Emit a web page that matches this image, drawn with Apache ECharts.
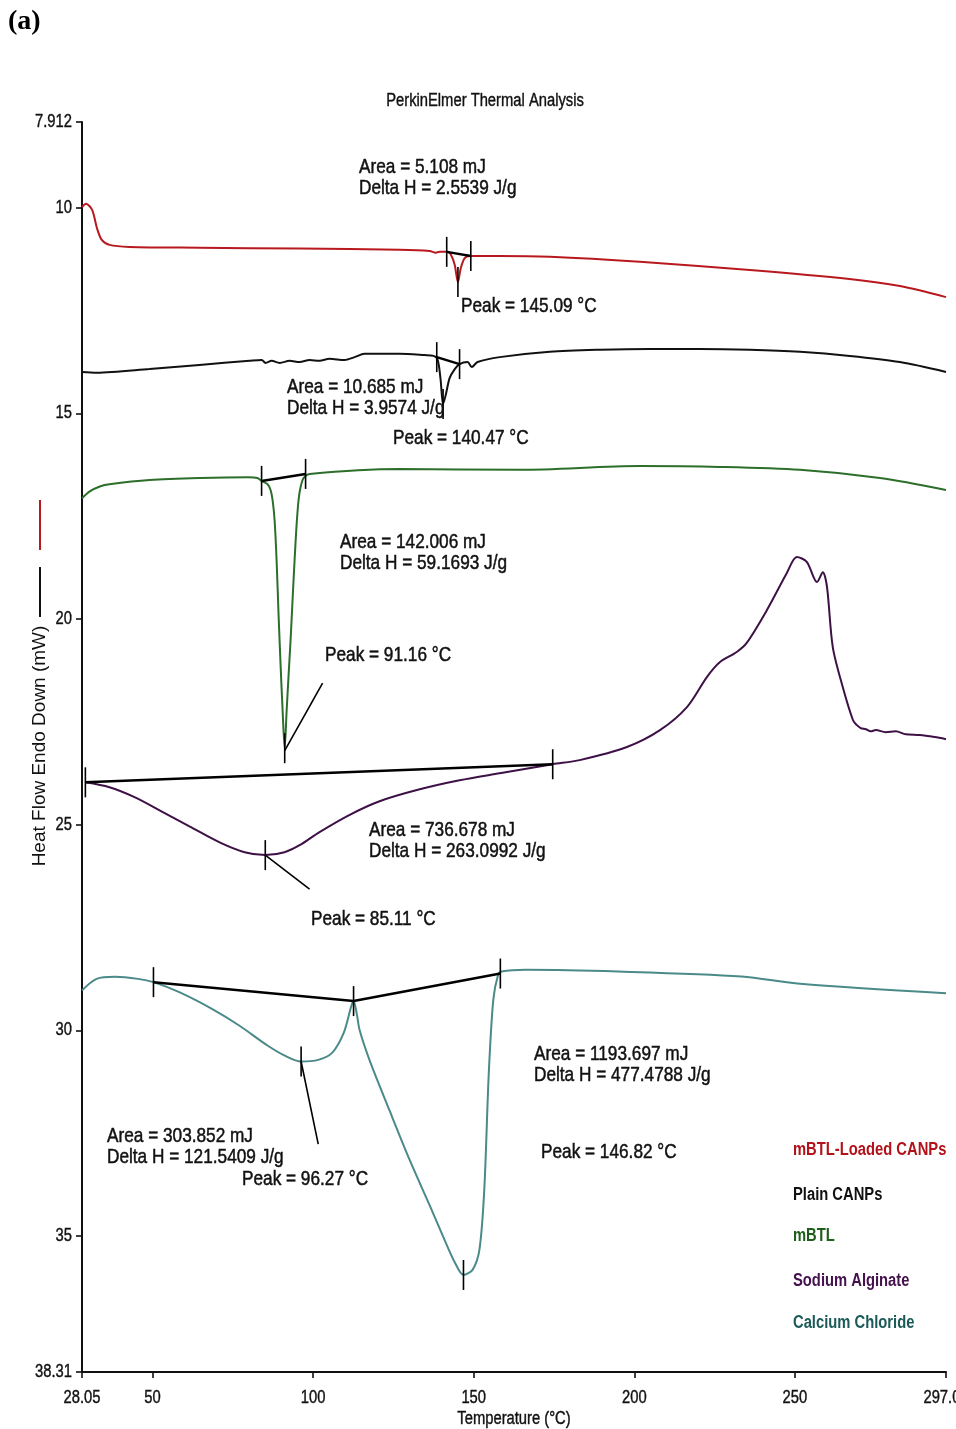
<!DOCTYPE html>
<html>
<head>
<meta charset="utf-8">
<script src="https://cdn.jsdelivr.net/npm/echarts@6/dist/echarts.min.js"></script>
<style>
  html, body { margin: 0; padding: 0; background: #ffffff; }
  #chart { width: 956px; height: 1429px; }
</style>
</head>
<body>
<div id="chart"></div>
<script>
// ---- DSC thermograms: heat flow (mW, endo down) vs temperature (°C) ----

// axis ticks
const xTickValues = [28.05, 50, 100, 150, 200, 250, 297.05];
const xTickLabels = ['28.05', '50', '100', '150', '200', '250', '297.05'];
const yTickValues = [7.912, 10, 15, 20, 25, 30, 35, 38.31];
const yTickLabels = ['7.912', '10', '15', '20', '25', '30', '35', '38.31'];

// sample names
const sampleNames = ['mBTL-Loaded CANPs', 'Plain CANPs', 'mBTL', 'Sodium Alginate', 'Calcium Chloride'];

// peak temperatures (°C)
const PEAK_LOADED = 145.09;
const PEAK_PLAIN = 140.47;
const PEAK_MBTL = 91.16;
const PEAK_ALGINATE = 85.11;
const PEAK_CACL2_LOW = 96.27;
const PEAK_CACL2_HIGH = 146.82;

// integration results
const areaTexts = ['5.108 mJ', '10.685 mJ', '142.006 mJ', '736.678 mJ', '1193.697 mJ', '303.852 mJ'];
const deltaHTexts = ['2.5539 J/g', '3.9574 J/g', '59.1693 J/g', '263.0992 J/g', '477.4788 J/g', '121.5409 J/g'];
const peakValues = [PEAK_LOADED, PEAK_PLAIN, PEAK_MBTL, PEAK_ALGINATE, PEAK_CACL2_HIGH, PEAK_CACL2_LOW];

// mBTL-Loaded CANPs
const loadedT = [28.05, 29.3, 31.2, 32.7, 34.2, 36.6, 42.8, 64.6, 95.8, 126.9, 136.3, 138.2, 139.4, 141.9, 143.1, 144.1, PEAK_LOADED, 146.0, 147.2, 148.8, 158.1, 173.7, 201.7, 236.0, 267.0, 282.7, 297.05];
const loadedHF = [9.98, 9.90, 10.05, 10.49, 10.78, 10.90, 10.95, 10.97, 10.99, 11.02, 11.05, 11.09, 11.07, 11.07, 11.17, 11.39, 11.80, 11.46, 11.22, 11.17, 11.17, 11.19, 11.31, 11.51, 11.73, 11.90, 12.17];

// Plain CANPs
const plainT = [28.05, 32.6, 49.1, 64.6, 80.2, 84.0, 85.2, 87.1, 89.6, 92.7, 95.8, 98.9, 102.0, 105.1, 109.8, 112.9, 116.0, 126.9, 134.7, 137.5, 138.8, 139.7, PEAK_PLAIN, 141.3, 142.5, 144.1, 145.6, 148.1, 149.4, 151.2, 158.1, 173.7, 189.3, 204.8, 220.4, 236.0, 251.6, 267.1, 282.7, 297.05];
const plainHF = [13.99, 14.01, 13.92, 13.82, 13.72, 13.70, 13.77, 13.72, 13.77, 13.72, 13.75, 13.70, 13.72, 13.67, 13.70, 13.63, 13.55, 13.55, 13.58, 13.60, 13.70, 14.18, 14.77, 14.55, 14.14, 13.92, 13.80, 13.75, 13.87, 13.75, 13.63, 13.50, 13.45, 13.43, 13.43, 13.45, 13.50, 13.60, 13.75, 13.99];

// mBTL
const mbtlT = [28.05, 30.6, 33.8, 36.6, 49.1, 64.6, 79.9, 82.7, 83.96, 85.83, 86.76, 87.38, 88.01, 88.63, 89.25, 89.88, 90.50, PEAK_MBTL, 91.74, 92.37, 92.99, 93.61, 94.24, 94.86, 95.48, 96.11, 97.04, 98.91, 126.9, 164.3, 201.7, 226.6, 251.6, 276.5, 297.05];
const mbtlHF = [17.06, 16.89, 16.77, 16.72, 16.62, 16.57, 16.55, 16.57, 16.64, 16.72, 16.86, 17.10, 17.59, 18.56, 19.90, 21.12, 22.21, 23.14, 22.26, 21.36, 20.51, 19.53, 18.56, 17.71, 17.10, 16.79, 16.57, 16.47, 16.35, 16.37, 16.28, 16.30, 16.37, 16.57, 16.86];

// Sodium Alginate
const alginateT = [29.1, 36.6, 44.4, 52.2, 61.5, 70.9, 78.7, PEAK_ALGINATE, 91.1, 95.8, 102.0, 111.4, 120.7, 133.2, 145.6, 158.1, 174.6, 183.0, 197.7, 208.0, 216.4, 222.6, 226.6, 231.9, 235.0, 241.3, 247.5, 250.6, 253.7, 256.9, 258.7, 260.0, 261.8, 264.9, 268.1, 269.3, 270.5, 272.1, 273.6, 275.2, 278.3, 281.4, 284.5, 288.9, 293.5, 297.05];
const alginateHF = [23.97, 24.09, 24.33, 24.65, 25.04, 25.43, 25.67, 25.74, 25.67, 25.50, 25.18, 24.76, 24.43, 24.14, 23.92, 23.75, 23.53, 23.43, 23.11, 22.70, 22.14, 21.41, 21.05, 20.80, 20.58, 19.78, 18.88, 18.49, 18.61, 19.10, 18.86, 19.22, 20.68, 21.65, 22.46, 22.58, 22.65, 22.68, 22.73, 22.70, 22.75, 22.73, 22.80, 22.82, 22.87, 22.92];

// Calcium Chloride
const cacl2T = [28.05, 32.6, 38.4, 45.5, 50.3, 58.5, 68.5, 77.1, 85.8, 91.5, PEAK_CACL2_LOW, 101.6, 105.9, 109.5, 111.9, 112.6, 113.6, 114.5, 117.6, 123.8, 130.1, 136.3, 141.0, 144.1, PEAK_CACL2_HIGH, 149.7, 151.8, 153.3, 154.7, 156.1, 157.6, 158.7, 166.2, 194.9, 233.4, 251.6, 297.05];
const cacl2HF = [29.03, 28.75, 28.70, 28.75, 28.83, 29.08, 29.48, 29.89, 30.37, 30.63, 30.76, 30.72, 30.55, 30.07, 29.41, 29.29, 29.60, 30.00, 30.73, 31.95, 33.16, 34.26, 35.11, 35.64, 35.95, 35.82, 35.33, 33.87, 31.04, 29.26, 28.65, 28.57, 28.53, 28.57, 28.69, 28.87, 29.10];

// integration baselines [T, HF]
const loadedBase = [[141.6, 11.07], [149.1, 11.17]];
const plainBase = [[138.5, 13.63], [145.6, 13.80]];
const mbtlBase = [[83.96, 16.64], [97.66, 16.47]];
const alginateBase = [[29.1, 23.97], [174.6, 23.53]];
const cacl2Base = [[50.3, 28.83], [112.6, 29.29], [158.3, 28.62]];

// limit / peak markers [T, HF]
const markerPoints = [
  [141.6, 11.07], [149.1, 11.17], [PEAK_LOADED, 11.80],
  [138.5, 13.63], [145.6, 13.80], [PEAK_PLAIN, 14.77],
  [83.96, 16.64], [97.66, 16.47], [PEAK_MBTL, 23.14],
  [29.1, 23.97], [174.6, 23.53], [PEAK_ALGINATE, 25.74],
  [50.3, 28.83], [112.6, 29.29], [158.3, 28.62], [PEAK_CACL2_LOW, 30.76], [PEAK_CACL2_HIGH, 35.95]
];

// peak leader lines [[T, HF], [T, HF]]
const leaderLines = [
  [[PEAK_MBTL, 23.2], [102.96, 21.56]],
  [[PEAK_ALGINATE, 25.74], [98.9, 26.57]],
  [[PEAK_CACL2_LOW, 30.76], [101.6, 32.77]]
];

// ---- styling ----
const SANS = '"Liberation Sans", Arial, Helvetica, sans-serif';
const NARROW_SCALE = 0.82;
const curveColors = ['#b8191e', '#111111', '#2c6e2a', '#3e1146', '#4a8a88'];
const legendColors = ['#b3121a', '#111111', '#1d5e1b', '#45114e', '#1b5a58'];

const zip = (xs, ys) => xs.map((x, i) => [x, ys[i]]);

const curves = [
  zip(loadedT, loadedHF),
  zip(plainT, plainHF),
  zip(mbtlT, mbtlHF),
  zip(alginateT, alginateHF),
  zip(cacl2T, cacl2HF)
];
const baselines = [loadedBase, plainBase, mbtlBase, alginateBase, cacl2Base];

const series = [];
curves.forEach((data, i) => {
  series.push({
    name: sampleNames[i],
    type: 'line',
    data: data,
    showSymbol: false,
    smooth: 0.3,
    lineStyle: { color: curveColors[i], width: 2 },
    itemStyle: { color: curveColors[i] },
    z: 3
  });
});
baselines.forEach(b => {
  series.push({
    type: 'line', data: b, showSymbol: false, silent: true,
    lineStyle: { color: '#000', width: 2.5 }, z: 4
  });
});
leaderLines.forEach(seg => {
  series.push({
    type: 'line', data: seg, showSymbol: false, silent: true,
    lineStyle: { color: '#000', width: 1.6 }, z: 4
  });
});
series.push({
  type: 'custom',
  silent: true,
  z: 5,
  data: markerPoints,
  renderItem: function (params, api) {
    const p = api.coord([api.value(0), api.value(1)]);
    return {
      type: 'line',
      shape: { x1: p[0], y1: p[1] - 15, x2: p[0], y2: p[1] + 15 },
      style: { stroke: '#000', lineWidth: 1.6 }
    };
  }
});

const chart = echarts.init(document.getElementById('chart'), null, { renderer: 'canvas' });
chart.setOption({
  animation: false,
  backgroundColor: '#ffffff',
  grid: { left: 82, right: 10, top: 122, bottom: 57, containLabel: false, outerBoundsMode: 'none' },
  xAxis: {
    type: 'value',
    min: 28.05, max: 297.05,
    axisLine: { show: true, lineStyle: { color: '#111', width: 2 } },
    axisTick: { show: true, customValues: xTickValues, length: 6, lineStyle: { color: '#111', width: 1.6 } },
    axisLabel: { show: false },
    splitLine: { show: false }
  },
  yAxis: {
    type: 'value',
    inverse: true,
    min: 7.912, max: 38.31,
    axisLine: { show: true, lineStyle: { color: '#111', width: 2 } },
    axisTick: { show: true, customValues: yTickValues, length: 6, lineStyle: { color: '#111', width: 1.6 } },
    axisLabel: { show: false },
    splitLine: { show: false }
  },
  series: series
});

// ---- text layer: condensed Helvetica-style labels ----
function txt(str, x, y, size, opts) {
  opts = opts || {};
  const align = opts.align || 'left';
  const color = opts.color || '#111';
  const style = {
    text: str,
    font: (opts.bold ? 'bold ' : '') + size + 'px ' + (opts.family || SANS),
    fill: color,
    align: align, verticalAlign: 'middle',
    textAlign: align, textVerticalAlign: 'middle'
  };
  if (opts.weight) { style.stroke = color; style.lineWidth = opts.weight; }
  return {
    type: 'text', x: x, y: y, silent: true,
    scaleX: opts.scaleX === undefined ? NARROW_SCALE : opts.scaleX,
    rotation: opts.rotation || 0,
    z: 10,
    style: style
  };
}

const xAt = v => chart.convertToPixel({ xAxisIndex: 0 }, v);
const yAt = v => chart.convertToPixel({ yAxisIndex: 0 }, v);
const axisX = xAt(xTickValues[0]);
const axisY = yAt(yTickValues[yTickValues.length - 1]);

const graphics = [];

// tick labels
xTickValues.forEach((v, i) => graphics.push(txt(xTickLabels[i], xAt(v), axisY + 26, 18, { align: 'center', weight: 0.4 })));
yTickValues.forEach((v, i) => graphics.push(txt(yTickLabels[i], axisX - 10, yAt(v), 18, { align: 'right', weight: 0.4 })));

// axis titles
graphics.push(txt('Temperature (°C)', (axisX + xAt(xTickValues[xTickValues.length - 1])) / 2, axisY + 47, 18, { align: 'center', weight: 0.4 }));
graphics.push(txt('Heat Flow Endo Down (mW)', 40, 746, 19, { align: 'center', scaleX: 1, rotation: Math.PI / 2 }));
graphics.push({ type: 'line', silent: true, shape: { x1: 40, y1: 567, x2: 40, y2: 617 }, style: { stroke: '#111', lineWidth: 2 } });
graphics.push({ type: 'line', silent: true, shape: { x1: 40, y1: 500, x2: 40, y2: 550 }, style: { stroke: curveColors[0], lineWidth: 2 } });

// header
graphics.push(txt('(a)', 8, 22, 28, { bold: true, scaleX: 1, family: '"Liberation Serif", "Times New Roman", serif', color: '#000' }));
graphics.push(txt('PerkinElmer Thermal Analysis', 485, 101, 18, { align: 'center', weight: 0.4 }));

// integration annotations (pixel anchors: left edge, vertical middle)
const areaPos = [[359, 167], [287, 387], [340, 542], [369, 830], [534, 1054], [107, 1136]];
const peakPos = [[461, 306], [393, 438], [325, 655], [311, 919], [541, 1152], [242, 1179]];
const LINE_GAP = 21;
areaTexts.forEach((a, i) => {
  graphics.push(txt('Area = ' + a, areaPos[i][0], areaPos[i][1], 21, { weight: 0.5 }));
  graphics.push(txt('Delta H = ' + deltaHTexts[i], areaPos[i][0], areaPos[i][1] + LINE_GAP, 21, { weight: 0.5 }));
});
peakValues.forEach((p, i) => {
  graphics.push(txt('Peak = ' + p.toFixed(2) + ' °C', peakPos[i][0], peakPos[i][1], 21, { weight: 0.5 }));
});

// sample key
const keyY = [1150, 1195, 1236, 1281, 1323];
sampleNames.forEach((n, i) => graphics.push(txt(n, 793, keyY[i], 18, { bold: true, color: legendColors[i] })));

chart.setOption({ graphic: graphics });
</script>
</body>
</html>
